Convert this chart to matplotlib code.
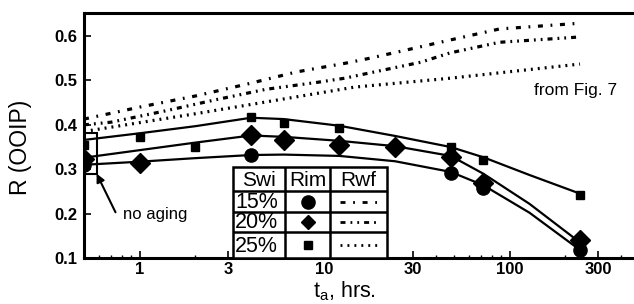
import matplotlib
matplotlib.use("Agg")
import matplotlib.pyplot as plt
from matplotlib.ticker import FixedLocator, LogLocator, NullFormatter, FixedFormatter
from matplotlib.patches import Rectangle

plt.rcParams['font.family'] = ['Liberation Sans', 'DejaVu Sans']
plt.rcParams['mathtext.fontset'] = 'custom'
plt.rcParams['mathtext.rm'] = 'Liberation Sans'
plt.rcParams['lines.scale_dashes'] = False

# ---- data ----
t_obs_15 = [4, 48, 72, 240]
R_im_15 = [0.332, 0.291, 0.258, 0.118]
t_obs_20 = [1, 4, 6, 12, 24, 48, 72, 240]
R_im_20 = [0.314, 0.377, 0.366, 0.354, 0.350, 0.327, 0.270, 0.140]
t_obs_25 = [1, 2, 4, 6, 12, 48, 72, 240]
R_im_25 = [0.372, 0.350, 0.418, 0.404, 0.393, 0.350, 0.320, 0.242]

t_noage = 0.5
R_noage_15 = 0.310
R_noage_20 = 0.322
R_noage_25 = 0.355

t_fit = [0.5, 1, 2, 4, 6, 12, 24, 48, 72, 128, 240]
fit_25 = [0.366, 0.381, 0.397, 0.416, 0.413, 0.398, 0.375, 0.350, 0.327, 0.287, 0.245]
fit_20 = [0.326, 0.343, 0.360, 0.376, 0.373, 0.364, 0.352, 0.330, 0.290, 0.222, 0.135]
fit_15 = [0.310, 0.317, 0.325, 0.332, 0.333, 0.330, 0.318, 0.294, 0.264, 0.202, 0.118]

t_wf_15 = [0.5, 1, 2, 4, 7, 13, 17.5, 30, 47.5, 88, 240]
R_wf_15 = [0.413, 0.440, 0.465, 0.494, 0.519, 0.539, 0.550, 0.572, 0.591, 0.616, 0.629]
t_wf_20 = [0.5, 0.7, 1.36, 2.54, 4.8, 9.2, 12.8, 17.5, 33, 47.5, 88, 240]
R_wf_20 = [0.400, 0.406, 0.431, 0.456, 0.480, 0.496, 0.505, 0.517, 0.541, 0.562, 0.586, 0.598]
t_wf_25 = [0.5, 2, 14.5, 47.5, 240]
R_wf_25 = [0.385, 0.425, 0.485, 0.505, 0.537]

x_ticks = [1, 3, 10, 30, 100, 300]
x_ticklabels = ['1', '3', '10', '30', '100', '300']
y_ticks = [0.1, 0.2, 0.3, 0.4, 0.5, 0.6]
y_ticklabels = ['0.1', '0.2', '0.3', '0.4', '0.5', '0.6']

swi_labels = ['15%', '20%', '25%']
table_header = ['Swi', 'Rim', 'Rwf']

# ---- styles ----
ls_15 = (0, (3.6, 5.5, 1.3, 5.5))
ls_20 = (0, (3.6, 3.6, 1.3, 3.6, 1.3, 3.6))
ls_25 = (0, (1.4, 3.6))

fig = plt.figure(figsize=(6.34, 3.04), dpi=100)
ax = fig.add_axes([84 / 634, 1 - 258 / 304, 550 / 634, 245 / 304])
ax.set_xscale('log')
ax.set_xlim(0.5, 470)
ax.set_ylim(0.1, 0.652)

# Rwf lines
ax.plot(t_wf_15, R_wf_15, color='black', lw=2.3, linestyle=ls_15, dash_capstyle='butt')
ax.plot(t_wf_20, R_wf_20, color='black', lw=2.3, linestyle=ls_20, dash_capstyle='butt')
ax.plot(t_wf_25, R_wf_25, color='black', lw=2.3, linestyle=ls_25, dash_capstyle='butt')

# fitted Rim curves
for yv in (fit_15, fit_20, fit_25):
    ax.plot(t_fit, yv, color='black', lw=1.6, solid_joinstyle='round')

# markers
ax.plot(t_obs_15, R_im_15, 'o', color='black', ms=9.5, zorder=5)
ax.plot(t_obs_20, R_im_20, 'D', color='black', ms=10.5, zorder=5)
ax.plot(t_obs_25, R_im_25, 's', color='black', ms=6, zorder=5)

# no-aging markers (half clipped at the left edge)
ax.plot([t_noage], [R_noage_15], 'o', color='black', ms=9.5, zorder=5)
ax.plot([t_noage], [R_noage_20], 'D', color='black', ms=10.5, zorder=5)
ax.plot([t_noage], [R_noage_25], 's', color='black', ms=6, zorder=5)
ax.add_patch(Rectangle((0.5, 0.29), 0.085, 0.092, fill=False, lw=1.5,
                       edgecolor='black', zorder=6))
ax.annotate('', xy=(0.585, 0.29), xytext=(0.74, 0.203),
            arrowprops=dict(arrowstyle='-|>', color='black', lw=1.5,
                            mutation_scale=12, shrinkA=0, shrinkB=0))
ax.text(0.81, 0.197, 'no aging', fontsize=12, ha='left', va='center')
ax.text(380, 0.478, 'from Fig. 7', fontsize=12.5, ha='right', va='center')

# axes styling
for s in ('left', 'bottom', 'top'):
    ax.spines[s].set_linewidth(2.2)
ax.spines['right'].set_visible(False)
ax.xaxis.set_major_locator(FixedLocator(x_ticks))
ax.xaxis.set_major_formatter(FixedFormatter(x_ticklabels))
ax.xaxis.set_minor_locator(LogLocator(base=10, subs=range(2, 10), numticks=20))
ax.xaxis.set_minor_formatter(NullFormatter())
ax.yaxis.set_major_locator(FixedLocator(y_ticks))
ax.yaxis.set_major_formatter(FixedFormatter(y_ticklabels))
ax.tick_params(axis='both', which='major', direction='in', length=5, width=1.2,
               labelsize=12, pad=5)
ax.tick_params(axis='x', which='major', pad=3)
ax.tick_params(axis='x', which='minor', direction='in', length=2.5, width=1)
for lab in ax.get_xticklabels() + ax.get_yticklabels():
    lab.set_fontweight('bold')

ax.set_ylabel('R (OOIP)', fontsize=16.5)
ax.yaxis.set_label_coords(-0.095, 0.45)
ax.set_xlabel('t$_\\mathrm{a}$, hrs.', fontsize=15.5)
ax.xaxis.set_label_coords(0.473, -0.088)

# ---- legend table ----
tx0, tx1 = 233, 387
ty0, ty1 = 167, 258
tab = fig.add_axes([tx0 / 634, 1 - ty1 / 304, (tx1 - tx0) / 634, (ty1 - ty0) / 304])
tab.set_xlim(tx0, tx1)
tab.set_ylim(ty1, ty0)
tab.axis('off')
tab.add_patch(Rectangle((tx0, ty0), tx1 - tx0, ty1 - ty0, facecolor='white',
                        edgecolor='black', lw=1.8, clip_on=False))
col_edges = [233, 285, 330, 387]
row_edges = [167, 191, 212, 232, 258]
for cx in col_edges[1:-1]:
    tab.plot([cx, cx], [ty0, ty1], color='black', lw=1.8)
for ry in row_edges[1:-1]:
    tab.plot([tx0, tx1], [ry, ry], color='black', lw=1.8)
for i, h in enumerate(table_header):
    tab.text((col_edges[i] + col_edges[i + 1]) / 2, (row_edges[0] + row_edges[1]) / 2 + 1,
             h, fontsize=15, ha='center', va='center')
markers = [('o', 9.5), ('D', 7), ('s', 5.5)]
styles = [ls_15, ls_20, ls_25]
for j, lab in enumerate(swi_labels):
    yc = (row_edges[j + 1] + row_edges[j + 2]) / 2
    tab.text(col_edges[0] + 2, yc + 1, lab, fontsize=15.5, ha='left', va='center')
    m, ms = markers[j]
    tab.plot([(col_edges[1] + col_edges[2]) / 2], [yc], m, color='black', ms=ms)
    tab.plot([col_edges[2] + 10, col_edges[3] - 10], [yc, yc], color='black', lw=2,
             linestyle=styles[j], dash_capstyle='butt')

fig.savefig('out.png', dpi=100)
